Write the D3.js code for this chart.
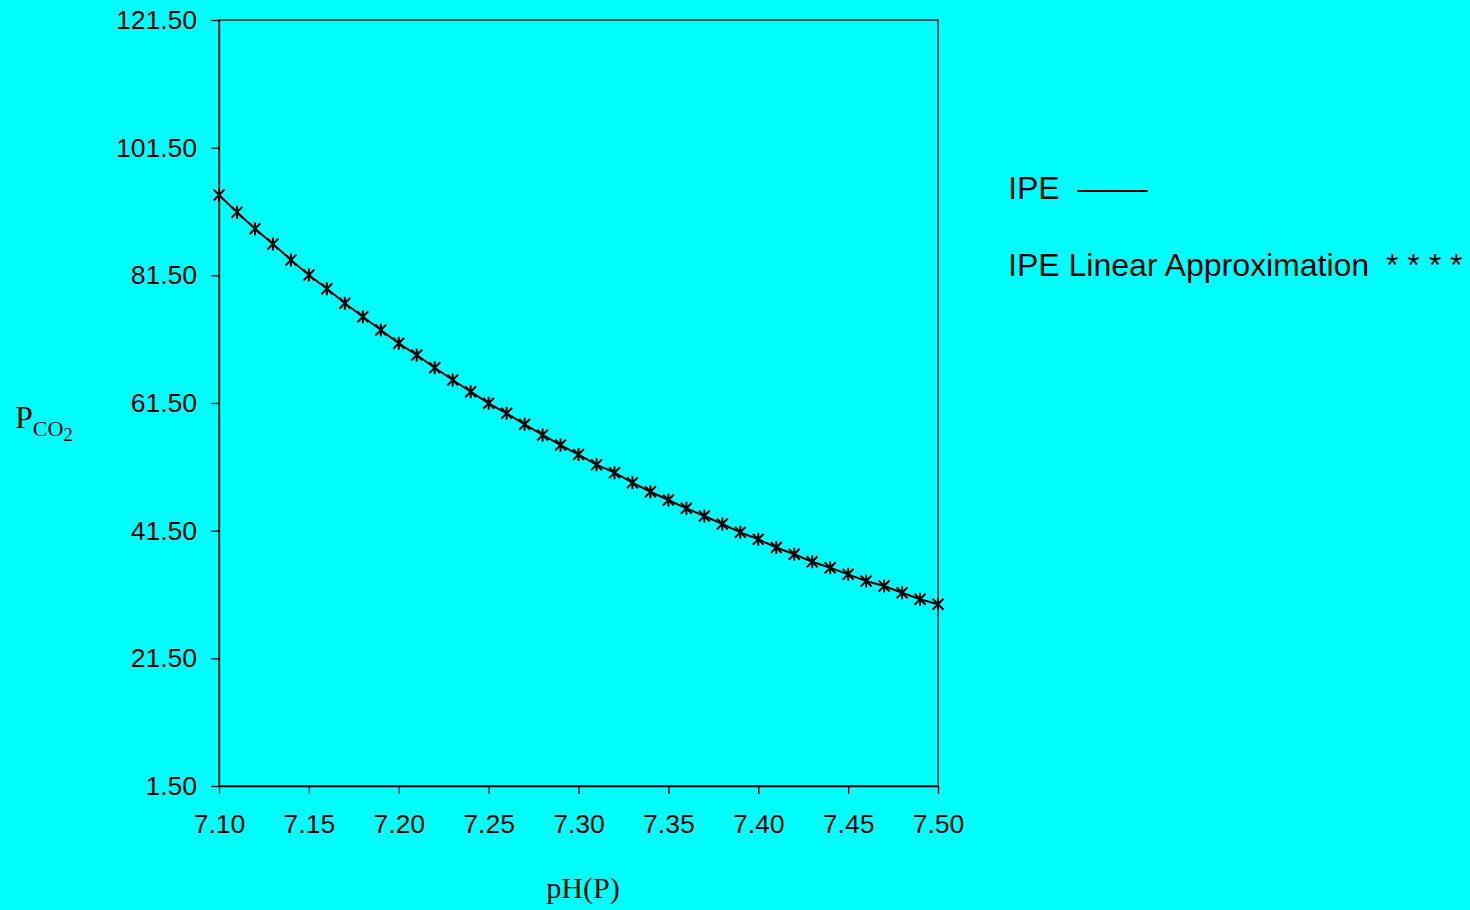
<!DOCTYPE html>
<html>
<head>
<meta charset="utf-8">
<script src="https://cdn.jsdelivr.net/npm/d3@7"></script>
<style>
  html, body { margin: 0; padding: 0; background: #00FFFF; }
  svg { display: block; }
</style>
</head>
<body>
<svg id="chart" width="1470" height="910"></svg>
<script>
// ---- data ----
const pH = [7.10, 7.11, 7.12, 7.13, 7.14, 7.15, 7.16, 7.17, 7.18, 7.19,
            7.20, 7.21, 7.22, 7.23, 7.24, 7.25, 7.26, 7.27, 7.28, 7.29,
            7.30, 7.31, 7.32, 7.33, 7.34, 7.35, 7.36, 7.37, 7.38, 7.39,
            7.40, 7.41, 7.42, 7.43, 7.44, 7.45, 7.46, 7.47, 7.48, 7.49, 7.50];
const ipe = [94.08, 91.37, 88.81, 86.41, 83.90, 81.55, 79.41, 77.12, 75.02, 72.94,
             70.85, 69.02, 67.03, 65.10, 63.27, 61.45, 59.89, 58.16, 56.49, 54.92,
             53.43, 51.83, 50.58, 49.01, 47.60, 46.30, 45.00, 43.80, 42.54, 41.24,
             40.15, 38.86, 37.80, 36.64, 35.70, 34.66, 33.61, 32.83, 31.78, 30.75, 29.96];
const ipeLinear = [94.08, 91.37, 88.81, 86.41, 83.90, 81.55, 79.41, 77.12, 75.02, 72.94,
             70.85, 69.02, 67.03, 65.10, 63.27, 61.45, 59.89, 58.16, 56.49, 54.92,
             53.43, 51.83, 50.58, 49.01, 47.60, 46.30, 45.00, 43.80, 42.54, 41.24,
             40.15, 38.86, 37.80, 36.64, 35.70, 34.66, 33.61, 32.83, 31.78, 30.75, 29.96];
const xTicks = [7.10, 7.15, 7.20, 7.25, 7.30, 7.35, 7.40, 7.45, 7.50];
const yTicks = [1.5, 21.5, 41.5, 61.5, 81.5, 101.5, 121.5];
const legendLabels = ["IPE", "IPE Linear Approximation"];

// ---- layout ----
const svg = d3.select("#chart");
const L = 219, R = 938, T = 20, B = 786;
const x = d3.scaleLinear().domain([7.10, 7.50]).range([L, R]);
const y = d3.scaleLinear().domain([1.5, 121.5]).range([B, T]);
const sans = "Arial, 'Liberation Sans', sans-serif";
const serif = "'Times New Roman', 'Liberation Serif', serif";

// frame
svg.append("rect")
  .attr("x", L).attr("y", T).attr("width", R - L).attr("height", B - T)
  .attr("fill", "none").attr("stroke", "#000").attr("stroke-width", 1.3);

// axes
const fmt = d3.format(".2f");
const yAxis = d3.axisLeft(y).tickValues(yTicks).tickFormat(fmt)
  .tickSizeInner(8).tickSizeOuter(0).tickPadding(14);
const xAxis = d3.axisBottom(x).tickValues(xTicks).tickFormat(fmt)
  .tickSizeInner(8).tickSizeOuter(0).tickPadding(20);

const gy = svg.append("g").attr("transform", `translate(${L},0)`).call(yAxis);
const gx = svg.append("g").attr("transform", `translate(0,${B})`).call(xAxis);
[gx, gy].forEach(g => {
  g.select(".domain").attr("stroke", "#000").attr("stroke-width", 1.3);
  g.selectAll(".tick line").attr("stroke", "#000").attr("stroke-width", 1.3);
  g.selectAll(".tick text").attr("fill", "#000")
    .style("font-family", sans).style("font-size", "26.5px");
});

// IPE line
const line = d3.line().x((d, i) => x(pH[i])).y(d => y(d));
svg.append("path").datum(ipe)
  .attr("d", line).attr("fill", "none")
  .attr("stroke", "#000").attr("stroke-width", 2);

// linear approximation markers (star)
const star = "M-5.5,-5.5L5.5,5.5M-5.5,5.5L5.5,-5.5M0,-6.5L0,6.5";
svg.append("g").selectAll("path").data(ipeLinear).join("path")
  .attr("transform", (d, i) => `translate(${x(pH[i])},${y(d)})`)
  .attr("d", star).attr("fill", "none")
  .attr("stroke", "#000").attr("stroke-width", 2);

// axis titles
svg.append("text")
  .attr("x", 583).attr("y", 898).attr("text-anchor", "middle")
  .style("font-family", serif).style("font-size", "30px").attr("fill", "#000")
  .text("pH(P)");

const yt = svg.append("text").attr("x", 15).attr("y", 428)
  .style("font-family", serif).attr("fill", "#000");
yt.append("tspan").style("font-size", "32px").text("P");
yt.append("tspan").style("font-size", "22px").attr("dy", 8).text("CO");
yt.append("tspan").style("font-size", "19px").attr("dy", 5).text("2");

// legend
svg.append("text").attr("x", 1008).attr("y", 199)
  .style("font-family", sans).style("font-size", "32px").attr("fill", "#000")
  .text(legendLabels[0]);
svg.append("line").attr("x1", 1077).attr("x2", 1148).attr("y1", 191).attr("y2", 191)
  .attr("stroke", "#000").attr("stroke-width", 2);
svg.append("text").attr("x", 1008).attr("y", 276)
  .style("font-family", sans).style("font-size", "32px").attr("fill", "#000")
  .text(legendLabels[1]);
svg.append("text").attr("x", 1386).attr("y", 276)
  .style("font-family", sans).style("font-size", "32px").attr("fill", "#000")
  .text("* * * *");
</script>
</body>
</html>
